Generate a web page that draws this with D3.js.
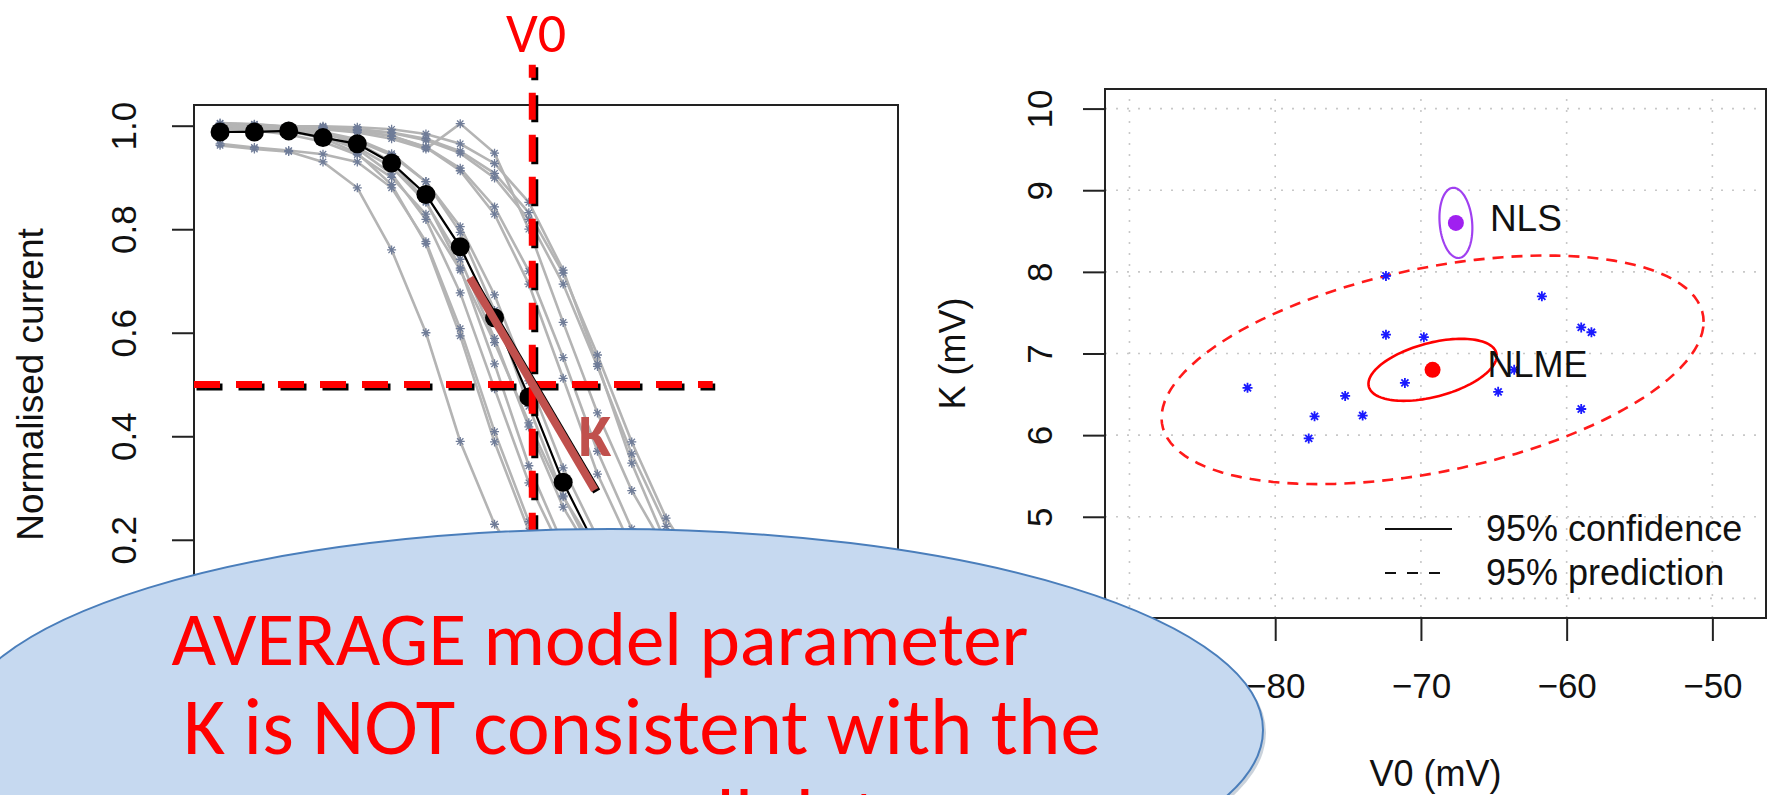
<!DOCTYPE html>
<html>
<head>
<meta charset="utf-8">
<script src="https://cdn.jsdelivr.net/npm/d3@7/dist/d3.min.js"></script>
<style>
  body { margin: 0; background: #fff; }
  svg { display: block; }
</style>
</head>
<body>
<svg width="1767" height="795"></svg>
<script>
// ---- left panel: normalised current vs voltage ----
var voltages = [-115, -110, -105, -100, -95, -90, -85, -80, -75, -70, -65, -60, -55, -50, -45, -40, -35, -30, -25, -20];
var meanCurrent = [0.988, 0.988, 0.990, 0.977, 0.965, 0.928, 0.867, 0.766, 0.629, 0.476, 0.311, 0.180, 0.098, 0.050, 0.025, 0.012, 0.006, 0.003, 0.001, 0.000];
var cellCurrents = [
  [0.962, 0.955, 0.950, 0.930, 0.880, 0.760, 0.600, 0.390, 0.230, 0.130, 0.070, 0.035, 0.017, 0.008, 0.004, 0.002, 0.001, 0, 0, 0],
  [0.998, 0.995, 0.990, 0.976, 0.947, 0.886, 0.772, 0.594, 0.389, 0.217, 0.107, 0.050, 0.022, 0.010, 0.004, 0.002, 0, 0, 0, 0],
  [0.965, 0.958, 0.952, 0.945, 0.930, 0.880, 0.776, 0.608, 0.409, 0.235, 0.121, 0.058, 0.027, 0.012, 0.005, 0.002, 0, 0, 0, 0],
  [0.998, 0.995, 0.990, 0.979, 0.955, 0.907, 0.819, 0.677, 0.492, 0.310, 0.172, 0.088, 0.043, 0.020, 0.009, 0.004, 0.002, 0, 0, 0],
  [0.999, 0.997, 0.993, 0.985, 0.967, 0.930, 0.854, 0.725, 0.540, 0.343, 0.190, 0.094, 0.045, 0.020, 0.009, 0.004, 0.002, 0, 0, 0],
  [0.995, 0.991, 0.983, 0.969, 0.944, 0.900, 0.829, 0.721, 0.581, 0.426, 0.283, 0.175, 0.102, 0.057, 0.031, 0.017, 0.009, 0.005, 0.003, 0.001],
  [0.997, 0.995, 0.989, 0.979, 0.958, 0.920, 0.852, 0.742, 0.589, 0.418, 0.263, 0.152, 0.082, 0.043, 0.022, 0.011, 0.005, 0.003, 0.001, 0],
  [0.999, 0.997, 0.994, 0.988, 0.974, 0.946, 0.892, 0.794, 0.643, 0.458, 0.285, 0.157, 0.080, 0.039, 0.019, 0.009, 0.004, 0.002, 0, 0],
  [0.998, 0.996, 0.993, 0.985, 0.971, 0.943, 0.892, 0.805, 0.673, 0.507, 0.339, 0.204, 0.113, 0.060, 0.031, 0.016, 0.008, 0.004, 0.002, 0.001],
  [1.005, 1.003, 0.998, 0.996, 0.991, 0.980, 0.958, 0.913, 0.829, 0.694, 0.512, 0.327, 0.184, 0.094, 0.046, 0.022, 0.010, 0.005, 0.002, 0.001],
  [0.999, 0.999, 0.998, 0.995, 0.990, 0.980, 0.959, 0.918, 0.843, 0.719, 0.552, 0.371, 0.221, 0.119, 0.061, 0.030, 0.015, 0.007, 0.003, 0.002],
  [0.999, 0.998, 0.996, 0.993, 0.987, 0.975, 0.955, 1.004, 0.947, 0.800, 0.620, 0.445, 0.295, 0.180, 0.102, 0.056, 0.030, 0.016, 0.008, 0.004],
  [1.004, 1.002, 0.998, 0.996, 0.993, 0.986, 0.972, 0.947, 0.899, 0.819, 0.694, 0.535, 0.366, 0.226, 0.128, 0.069, 0.036, 0.019, 0.009, 0.005],
  [1.000, 0.999, 0.998, 0.997, 0.993, 0.987, 0.975, 0.951, 0.908, 0.832, 0.715, 0.557, 0.389, 0.242, 0.139, 0.075, 0.040, 0.020, 0.010, 0.005],
  [1.000, 1.000, 0.999, 0.999, 0.997, 0.993, 0.984, 0.965, 0.927, 0.852, 0.721, 0.540, 0.348, 0.193, 0.098, 0.047, 0.022, 0.010, 0.005, 0.002]
];
var currentTicks = [0, 0.2, 0.4, 0.6, 0.8, 1.0];
var meanV0 = -69.5;           // V0 marker line
var kSegment = [[-78.6, 0.706], [-60.4, 0.296]];   // slope annotation

// ---- right panel: individual V0 / K estimates ----
var cellV0 = [-81.9, -77.7, -77.3, -75.2, -74.0, -72.4, -72.4, -71.1, -69.8, -64.7, -63.6, -61.7, -59.0, -58.3, -59.0];
var cellK  = [6.58, 5.96, 6.23, 6.48, 6.24, 7.95, 7.23, 6.64, 7.20, 6.53, 6.80, 7.70, 7.32, 7.26, 6.32];
var nlmeMean = [-69.2, 6.80];
var nlsMean = [-67.6, 8.60];
// ellipse shapes: [sd V0, sd K, correlation]
var nlmeConf = [4.4, 0.38, 0.45];
var nlmePred = [18.6, 1.40, 0.42];
var nlsConf = [1.13, 0.43, -0.15];
var v0Ticks = [-90, -80, -70, -60, -50];
var kTicks = [4, 5, 6, 7, 8, 9, 10];
var legendLabels = ["95% confidence", "95% prediction"];

// callout: text, centre x, baseline, width on the slide
var calloutLines = ["AVERAGE model parameter", "K is NOT consistent with the", "average cell data"];
var calloutCentres = [600, 642, 642];
var calloutBaselines = [665, 754, 845];
var calloutWidths = [857, 917, null];

var svg = d3.select("svg");
var rFont = "'Liberation Sans', Arial, Helvetica, sans-serif";
var pptFont = "Calibri, Carlito, Lato, sans-serif";

// ================= left panel =================
var xL = d3.scaleLinear().domain([-118.8, -16.2]).range([194, 898]);
var yL = d3.scaleLinear().domain([-0.04, 1.04]).range([664, 105]);

var left = svg.append("g");

var lineL = d3.line()
    .x(function (d, i) { return xL(voltages[i]); })
    .y(function (d) { return yL(d); });

left.append("g").selectAll("path")
    .data(cellCurrents)
    .enter().append("path")
    .attr("d", lineL)
    .attr("fill", "none")
    .attr("stroke", "#b4b4b4")
    .attr("stroke-width", 2.6);

function star(r) {
    var a = r * 0.7071;
    return "M" + (-r) + ",0L" + r + ",0M0," + (-r) + "L0," + r +
        "M" + (-a) + "," + (-a) + "L" + a + "," + a + "M" + (-a) + "," + a + "L" + a + "," + (-a);
}

cellCurrents.forEach(function (c) {
    left.append("g").selectAll("path")
        .data(c)
        .enter().append("path")
        .attr("transform", function (d, i) { return "translate(" + xL(voltages[i]) + "," + yL(d) + ")"; })
        .attr("d", star(4.5))
        .attr("stroke", "#6f7c98")
        .attr("stroke-width", 1.3)
        .attr("fill", "none");
});

left.append("path")
    .datum(meanCurrent)
    .attr("d", lineL)
    .attr("fill", "none")
    .attr("stroke", "#000")
    .attr("stroke-width", 2.2);

left.append("g").selectAll("circle")
    .data(meanCurrent)
    .enter().append("circle")
    .attr("cx", function (d, i) { return xL(voltages[i]); })
    .attr("cy", function (d) { return yL(d); })
    .attr("r", 9.5)
    .attr("fill", "#000");

// box + axis
left.append("rect")
    .attr("x", xL.range()[0]).attr("y", yL.range()[1])
    .attr("width", xL.range()[1] - xL.range()[0])
    .attr("height", yL.range()[0] - yL.range()[1])
    .attr("fill", "none").attr("stroke", "#222").attr("stroke-width", 2);

var axL = left.append("g")
    .attr("transform", "translate(" + xL.range()[0] + ",0)")
    .call(d3.axisLeft(yL).tickValues(currentTicks).tickSize(22).tickSizeOuter(0).tickFormat(d3.format(".1f")));
axL.select(".domain").remove();
axL.selectAll("line").attr("stroke", "#222").attr("stroke-width", 2);
axL.selectAll("text")
    .attr("x", null).attr("dy", null)
    .attr("transform", "translate(-71,0) rotate(-90)")
    .attr("text-anchor", "middle")
    .attr("dominant-baseline", "central")
    .style("font-family", rFont).style("font-size", "35px").attr("fill", "#111");

left.append("text")
    .attr("transform", "translate(30," + yL(0.5) + ") rotate(-90)")
    .attr("text-anchor", "middle")
    .attr("dominant-baseline", "central")
    .style("font-family", rFont).style("font-size", "37px").attr("fill", "#111")
    .text("Normalised current");

// ================= right panel =================
var xR = d3.scaleLinear().domain([-91.68, -46.32]).range([1105, 1766]);
var yR = d3.scaleLinear().domain([3.76, 10.24]).range([618, 89]);
var right = svg.append("g");

// dotted grid
right.append("g").selectAll("line")
    .data(v0Ticks)
    .enter().append("line")
    .attr("x1", function (d) { return xR(d); }).attr("x2", function (d) { return xR(d); })
    .attr("y1", yR.range()[0]).attr("y2", yR.range()[1])
    .attr("stroke", "#c8c8c8").attr("stroke-width", 1.6).attr("stroke-dasharray", "2,9");
right.append("g").selectAll("line")
    .data(kTicks)
    .enter().append("line")
    .attr("y1", function (d) { return yR(d); }).attr("y2", function (d) { return yR(d); })
    .attr("x1", xR.range()[0]).attr("x2", xR.range()[1])
    .attr("stroke", "#c8c8c8").attr("stroke-width", 1.6).attr("stroke-dasharray", "2,9");

function ellipsePts(mean, shape) {
    var pts = [];
    for (var i = 0; i <= 120; i++) {
        var t = i / 120 * 2 * Math.PI;
        var u = Math.cos(t), v = Math.sin(t);
        pts.push([mean[0] + shape[0] * u,
                  mean[1] + shape[1] * (shape[2] * u + Math.sqrt(1 - shape[2] * shape[2]) * v)]);
    }
    return pts;
}
var lineR = d3.line().x(function (d) { return xR(d[0]); }).y(function (d) { return yR(d[1]); });

right.append("path").datum(ellipsePts(nlmeMean, nlmePred))
    .attr("d", lineR).attr("fill", "none").attr("stroke", "#ff1a1a")
    .attr("stroke-width", 2.6).attr("stroke-dasharray", "11,8");
right.append("path").datum(ellipsePts(nlmeMean, nlmeConf))
    .attr("d", lineR).attr("fill", "none").attr("stroke", "#ff0000").attr("stroke-width", 2.6);
right.append("path").datum(ellipsePts(nlsMean, nlsConf))
    .attr("d", lineR).attr("fill", "none").attr("stroke", "#a040f0").attr("stroke-width", 2.2);

right.append("g").selectAll("path")
    .data(cellV0)
    .enter().append("path")
    .attr("transform", function (d, i) { return "translate(" + xR(d) + "," + yR(cellK[i]) + ")"; })
    .attr("d", star(5))
    .attr("stroke", "#1a1aff").attr("stroke-width", 1.8).attr("fill", "none");

right.append("circle").attr("cx", xR(nlmeMean[0])).attr("cy", yR(nlmeMean[1]))
    .attr("r", 8).attr("fill", "#ff0000");
right.append("circle").attr("cx", xR(nlsMean[0])).attr("cy", yR(nlsMean[1]))
    .attr("r", 8).attr("fill", "#a020f0");

right.append("text")
    .attr("x", xR(nlsMean[0]) + 34).attr("y", yR(nlsMean[1]) + 8)
    .style("font-family", rFont).style("font-size", "37px").attr("fill", "#111")
    .text("NLS");
right.append("text")
    .attr("x", xR(nlmeMean[0]) + 55).attr("y", yR(nlmeMean[1]) + 7)
    .style("font-family", rFont).style("font-size", "36px").attr("fill", "#111")
    .text("NLME");

right.append("rect")
    .attr("x", xR.range()[0]).attr("y", yR.range()[1])
    .attr("width", xR.range()[1] - xR.range()[0])
    .attr("height", yR.range()[0] - yR.range()[1])
    .attr("fill", "none").attr("stroke", "#222").attr("stroke-width", 2);

var axRy = right.append("g")
    .attr("transform", "translate(" + xR.range()[0] + ",0)")
    .call(d3.axisLeft(yR).tickValues(kTicks).tickSize(22).tickSizeOuter(0).tickFormat(d3.format("d")));
axRy.select(".domain").remove();
axRy.selectAll("line").attr("stroke", "#222").attr("stroke-width", 2);
axRy.selectAll("text")
    .attr("x", null).attr("dy", null)
    .attr("transform", "translate(-66,0) rotate(-90)")
    .attr("text-anchor", "middle")
    .attr("dominant-baseline", "central")
    .style("font-family", rFont).style("font-size", "35px").attr("fill", "#111");

var axRx = right.append("g")
    .attr("transform", "translate(0," + yR.range()[0] + ")")
    .call(d3.axisBottom(xR).tickValues(v0Ticks).tickSize(23).tickSizeOuter(0));
axRx.select(".domain").remove();
axRx.selectAll("line").attr("stroke", "#222").attr("stroke-width", 2);
axRx.selectAll("text")
    .attr("y", 80).attr("dy", null)
    .style("font-family", rFont).style("font-size", "35px").attr("fill", "#111");

right.append("text")
    .attr("transform", "translate(952," + yR(7) + ") rotate(-90)")
    .attr("text-anchor", "middle").attr("dominant-baseline", "central")
    .style("font-family", rFont).style("font-size", "36px").attr("fill", "#111")
    .text("K (mV)");
right.append("text")
    .attr("x", (xR.range()[0] + xR.range()[1]) / 2).attr("y", 786)
    .attr("text-anchor", "middle")
    .style("font-family", rFont).style("font-size", "36px").attr("fill", "#111")
    .text("V0 (mV)");

// legend
var leg = right.append("g").attr("transform", "translate(1385,529)");
leg.selectAll("line")
    .data(legendLabels)
    .enter().append("line")
    .attr("x1", 0).attr("x2", function (d, i) { return i ? 56 : 67; })
    .attr("y1", function (d, i) { return i * 44; }).attr("y2", function (d, i) { return i * 44; })
    .attr("stroke", "#111").attr("stroke-width", 2.2)
    .attr("stroke-dasharray", function (d, i) { return i ? "11,11" : null; });
leg.selectAll("text")
    .data(legendLabels)
    .enter().append("text")
    .attr("x", 101).attr("y", function (d, i) { return i * 44 + 12; })
    .style("font-family", rFont).style("font-size", "36px").attr("fill", "#111")
    .text(function (d) { return d; });

// ================= annotations =================
var ann = svg.append("g");

function shadowedDash(x1, y1, x2, y2, dash, offset) {
    ann.append("line")
        .attr("x1", x1 + 2.5).attr("y1", y1 + 2.5).attr("x2", x2 + 2.5).attr("y2", y2 + 2.5)
        .attr("stroke", "#000").attr("stroke-width", 7)
        .attr("stroke-dasharray", dash).attr("stroke-dashoffset", offset);
    ann.append("line")
        .attr("x1", x1).attr("y1", y1).attr("x2", x2).attr("y2", y2)
        .attr("stroke", "#ff0000").attr("stroke-width", 7)
        .attr("stroke-dasharray", dash).attr("stroke-dashoffset", offset);
}
shadowedDash(xL(meanV0), yL(1.118), xL(meanV0), yL(-0.3), "27,15", 14);
shadowedDash(xL.range()[0], yL(0.5), xL(-43.2), yL(0.5), "26,16", 0);

ann.append("line")
    .attr("x1", xL(kSegment[0][0]) + 2).attr("y1", yL(kSegment[0][1]) + 1.5)
    .attr("x2", xL(kSegment[1][0]) + 2).attr("y2", yL(kSegment[1][1]) + 1.5)
    .attr("stroke", "#000").attr("stroke-width", 8);
ann.append("line")
    .attr("x1", xL(kSegment[0][0])).attr("y1", yL(kSegment[0][1]))
    .attr("x2", xL(kSegment[1][0])).attr("y2", yL(kSegment[1][1]))
    .attr("stroke", "#c0504d").attr("stroke-width", 8);

ann.append("text")
    .attr("x", 595).attr("y", 456)
    .attr("text-anchor", "middle")
    .style("font-family", pptFont).style("font-weight", "bold").style("font-size", "60px")
    .attr("fill", "#c0504d")
    .text("K");

ann.append("text")
    .attr("x", 536).attr("y", 52)
    .attr("text-anchor", "middle")
    .style("font-family", pptFont).style("font-size", "56px")
    .attr("fill", "#ff0000")
    .text("V0");

// callout bubble
ann.append("ellipse")
    .attr("cx", 613).attr("cy", 733).attr("rx", 653).attr("ry", 201)
    .attr("fill", "#8a9bb0").attr("opacity", 0.45);
ann.append("ellipse")
    .attr("cx", 610).attr("cy", 730).attr("rx", 653).attr("ry", 201)
    .attr("fill", "#c6d9f0").attr("stroke", "#4a7ebb").attr("stroke-width", 2);

var ct = ann.append("g").selectAll("text")
    .data(calloutLines)
    .enter().append("text")
    .attr("x", function (d, i) { return calloutCentres[i]; })
    .attr("y", function (d, i) { return calloutBaselines[i]; })
    .attr("text-anchor", "middle")
    .style("font-family", pptFont).style("font-size", "70px")
    .attr("fill", "#ff0000")
    .text(function (d) { return d; });

// size each line so it spans the same width as on the slide
var sizes = ct.nodes().map(function (n, i) {
    var w = n.getComputedTextLength();
    return calloutWidths[i] && w > 0 ? 70 * calloutWidths[i] / w : null;
});
ct.style("font-size", function (d, i) {
    var s = sizes[i] || sizes[1] || 70;
    return s.toFixed(1) + "px";
});
</script>
</body>
</html>
